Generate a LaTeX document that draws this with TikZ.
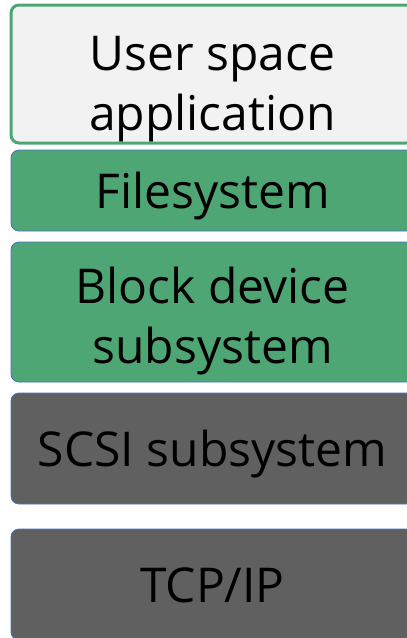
\documentclass[tikz,border=0pt]{standalone}
\usepackage{fontspec}
\setmainfont{Open Sans}
\usetikzlibrary{positioning}
\definecolor{layergreen}{HTML}{4EA674}
\definecolor{layergray}{HTML}{606060}
\definecolor{paper}{HTML}{F2F2F2}
\definecolor{edgeblue}{HTML}{4472C4}

\begin{document}
\begin{tikzpicture}[x=1pt, y=-1pt,
		layer/.style={draw, rounded corners=8pt, minimum width=403pt, align=center, inner sep=0pt,
			font=\fontsize{48}{60}\selectfont, text=black, text height=36pt, text depth=0pt},
		greenlayer/.style={layer, fill=layergreen, draw=edgeblue, line width=0.8pt},
		graylayer/.style={layer, fill=layergray, draw=edgeblue, line width=0.8pt}]
		\useasboundingbox (0,0) rectangle (407,638);
		\node[layer, fill=paper, draw=layergreen, line width=3pt, minimum height=138pt, text height=112pt] (app) at (212.5,74) {User space\\application};
		\node[greenlayer, minimum height=81pt] (fs) at (212.5,190.5) {Filesystem};
		\node[greenlayer, minimum height=140pt, text height=102pt] (blk) at (212.5,312) {Block device\\subsystem};
		\node[graylayer, minimum height=111pt] (scsi) at (212.5,448.5) {SCSI subsystem};
		\node[graylayer, minimum height=111pt] (tcp) at (212.5,584.5) {TCP/IP};
	\end{tikzpicture}
\end{document}
